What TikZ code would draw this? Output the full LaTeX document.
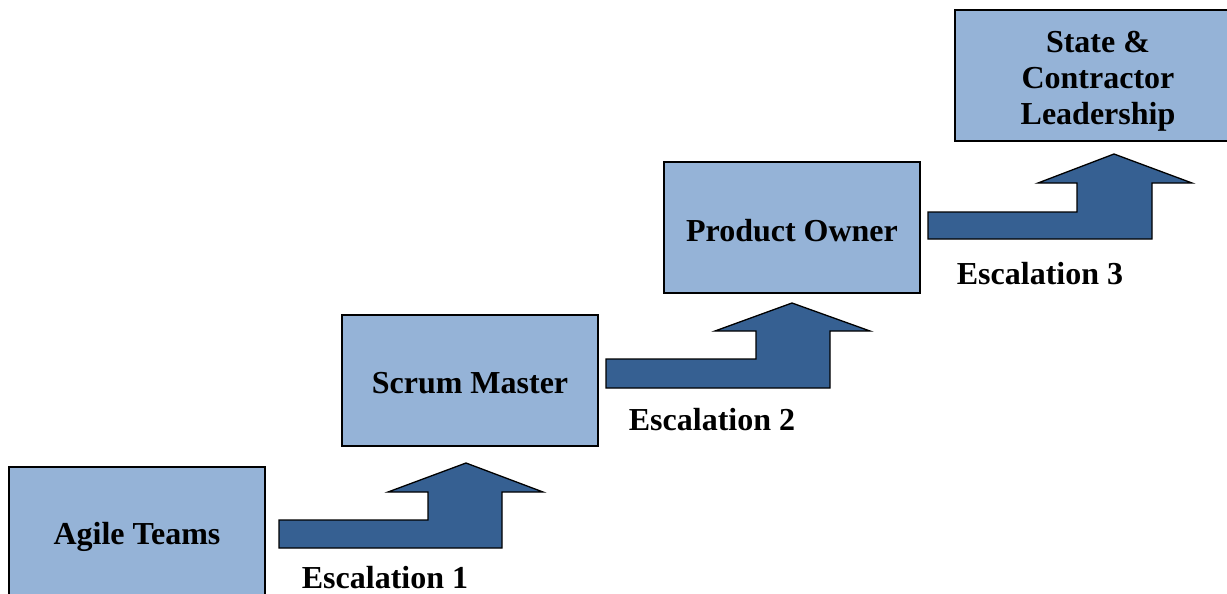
\documentclass[tikz,border=0pt]{standalone}
\usepackage{fontspec}
\setmainfont{Liberation Serif}
\definecolor{boxfill}{RGB}{149,179,215}
\definecolor{arrowfill}{RGB}{54,96,146}
\begin{document}
\begin{tikzpicture}[x=1pt,y=-1pt,
  lvlbox/.style={draw=black,line width=1.8pt,fill=boxfill,minimum width=256pt,minimum height=131pt,inner sep=0pt},
  boxtext/.style={inner sep=0pt,align=center,font=\fontsize{32}{36}\selectfont\bfseries},
  esclabel/.style={inner sep=0pt,font=\fontsize{32}{36}\selectfont\bfseries},
  blockarrow/.style={draw=black,line width=1.3pt,fill=arrowfill,line join=miter}]
\useasboundingbox (0,0) rectangle (1227,594);
\clip (0,0) rectangle (1227,594);
\node[lvlbox] (agile) at (137,532.5) {};
\node[lvlbox] (scrum) at (470,380.5) {};
\node[lvlbox] (po) at (792,227.5) {};
\node[lvlbox,minimum width=286pt] (state) at (1098,75.75) {};
\node[boxtext] (agiletext) at ([yshift=-4pt]agile.center) {Agile Teams};
\node[boxtext] (scrumtext) at ([yshift=-3pt]scrum.center) {Scrum Master};
\node[boxtext] (potext) at ([yshift=-3pt]po.center) {Product Owner};
\node[boxtext] (statetext) at ([yshift=-6pt]state.center) {State \&\\Contractor\\Leadership};
% arrow 1
\coordinate (a1) at (279,548);
\draw[blockarrow] (a1) -- ++(0,-28) -- ++(149,0) -- ++(0,-28) -- ++(-40,0) -- ++(78,-29) -- ++(77,29) -- ++(-41,0) -- ++(0,56) -- cycle;
% arrow 2
\coordinate (a2) at (606,388);
\draw[blockarrow] (a2) -- ++(0,-29) -- ++(150,0) -- ++(0,-28) -- ++(-41,0) -- ++(77,-28) -- ++(78,28) -- ++(-40,0) -- ++(0,57) -- cycle;
% arrow 3
\coordinate (a3) at (928,239);
\draw[blockarrow] (a3) -- ++(0,-27) -- ++(149,0) -- ++(0,-29) -- ++(-39,0) -- ++(76,-29) -- ++(78,29) -- ++(-40,0) -- ++(0,56) -- cycle;
\node[esclabel] (e1) at (385,578) {Escalation 1};
\node[esclabel] (e2) at (712,420) {Escalation 2};
\node[esclabel] (e3) at (1040,274) {Escalation 3};
\end{tikzpicture}
\end{document}
